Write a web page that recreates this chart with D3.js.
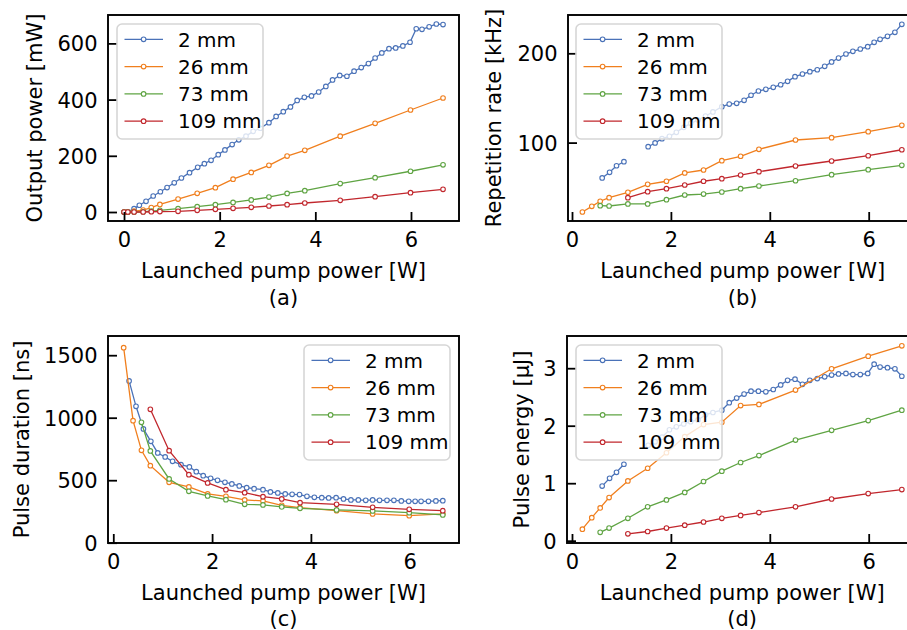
<!DOCTYPE html>
<html>
<head>
<meta charset="utf-8">
<script src="https://d3js.org/d3.v7.min.js"></script>
<style>
  body { margin: 0; background: #fff; }
  svg { display: block; font-family: "DejaVu Sans", sans-serif; }
</style>
</head>
<body>
<script>
// x grids [W]
var xBlue = [0, 0.08, 0.21, 0.32, 0.46, 0.61, 0.76, 0.90, 1.05, 1.20, 1.37, 1.54, 1.68, 1.82, 1.97, 2.11, 2.26, 2.40, 2.55, 2.70, 2.85, 3.03, 3.18, 3.33, 3.48, 3.62, 3.77, 3.92, 4.07, 4.22, 4.36, 4.51, 4.66, 4.81, 4.96, 5.11, 5.25, 5.39, 5.54, 5.68, 5.83, 5.98, 6.11, 6.23, 6.38, 6.53, 6.67];
var xFiber = [0, 0.08, 0.21, 0.40, 0.57, 0.75, 1.13, 1.53, 1.91, 2.28, 2.66, 3.03, 3.41, 3.78, 4.52, 5.25, 5.99, 6.67];

// (a) output power [mW]
var power2 = [0, 1, 12, 24, 38, 57, 72, 87, 104, 121, 140, 159, 172, 184, 204, 221, 240, 257, 270, 287, 298, 318, 340, 357, 374, 397, 408, 413, 427, 447, 470, 486, 483, 501, 514, 528, 548, 566, 581, 584, 591, 604, 652, 650, 659, 669, 667];
var power26 = [0, 0, 3, 7, 16, 27, 46, 66.5, 86.6, 117, 141, 166, 199, 219.5, 270, 315.5, 363, 405.7];
var power73 = [0, 0, 0, 1, 3, 6, 12, 19, 26, 34, 43, 53, 66, 76, 101, 122, 145, 168];
var power109 = [0, 0, 0, 0, 1, 1.5, 2.4, 6, 9.5, 13, 16.6, 21.4, 26, 32, 41.5, 54.5, 68.7, 80.7];

// (b) repetition rate [kHz]
var rate2 = [null, null, null, null, null, 60.4, 66.7, 74.1, 78.6, null, null, 95.4, 99.6, 104.4, 107.0, 111.5, 117.1, 121.6, 125.3, 129.8, 134.3, 140.2, 143.2, 144.0, 147.4, 153, 157.8, 159.7, 161.9, 164.8, 168.6, 173.8, 176.8, 179.4, 181.6, 185.4, 190.3, 194.7, 199.2, 202.2, 204.8, 207.4, 212.3, 215.7, 219, 223.5, 232.5];
var rate26 = [null, null, 22.3, 28.6, 34.3, 38.3, 44.3, 53.3, 56.7, 66, 69.3, 79.8, 84.7, 92.5, 102.9, 105.5, 112.2, 119.4];
var rate73 = [null, null, null, null, 29.4, 29, 31.3, 31.3, 36.1, 41.3, 42.4, 44.7, 48.4, 51.4, 57.3, 64.1, 69.7, 74.6];
var rate109 = [null, null, null, null, null, null, 38.3, 45, 48.4, 52.5, 56.7, 59.6, 63.7, 67.4, 73.8, 79.4, 85.3, 92];

// (c) pulse duration [ns]
var dur2 = [null, null, null, 1294, 1091, 910, 811, 718, 686, 651, 624, 606, 568, 536, 515, 499, 483, 470, 454, 440, 432, 424, 406, 398, 390, 387, 385, 371, 363, 360, 358, 360, 350, 342, 342, 339, 342, 339, 339, 339, 334, 331, 331, 331, 331, 334, 336];
var dur26 = [null, null, 1560, 976, 739, 616, 483, 446, 390, 371, 342, 334, 299, 280, 256, 230, 216, 230];
var dur73 = [null, null, null, null, 963, 734, 510, 411, 374, 344, 307, 302, 286, 275, 262, 254, 240, 222];
var dur109 = [null, null, null, null, null, 1067, 736, 544, 478, 424, 400, 368, 350, 320, 307, 283, 267, 256];

// (d) pulse energy [uJ]
var energy2 = [null, null, null, null, null, 0.95, 1.085, 1.19, 1.33, null, null, 1.66, 1.72, 1.80, 1.93, 1.98, 2.03, 2.07, 2.10, 2.19, 2.23, 2.27, 2.40, 2.48, 2.55, 2.60, 2.60, 2.59, 2.63, 2.71, 2.79, 2.81, 2.72, 2.79, 2.82, 2.85, 2.88, 2.90, 2.91, 2.89, 2.89, 2.91, 3.07, 3.02, 3.01, 2.99, 2.86];
var energy26 = [null, null, 0.20, 0.40, 0.57, 0.75, 1.04, 1.26, 1.53, 1.81, 2.02, 2.06, 2.35, 2.37, 2.62, 2.99, 3.21, 3.39];
var energy73 = [null, null, null, null, 0.146, 0.22, 0.39, 0.59, 0.71, 0.84, 1.03, 1.21, 1.36, 1.48, 1.75, 1.92, 2.09, 2.27];
var energy109 = [null, null, null, null, null, null, 0.12, 0.16, 0.22, 0.27, 0.325, 0.39, 0.44, 0.49, 0.59, 0.725, 0.82, 0.89];

var seriesNames = ["2 mm", "26 mm", "73 mm", "109 mm"];
var colors = ["#4a72b8", "#f07f1e", "#5fa443", "#c1272d"];
var xTicks = [0, 2, 4, 6];

var W = 907, H = 630;
var fontSize = 21;

var svg = d3.select("body").append("svg")
  .attr("width", W)
  .attr("height", H);

var panels = [
  { box: { l: 108, r: 459, t: 15, b: 221 }, xd: [-0.335, 7.004], yd: [-32, 701],
    yTicks: [0, 200, 400, 600], ylabel: "Output power [mW]", ylabelX: 42, tag: "(a)",
    xlabelY: 278, tagY: 305, legend: { x: 117, y: 24 },
    data: [power2, power26, power73, power109] },
  { box: { l: 568, r: 917.4, t: 15, b: 221 }, xd: [-0.081, 6.985], yd: [12.2, 242.9],
    yTicks: [100, 200], ylabel: "Repetition rate [kHz]", ylabelX: 501, tag: "(b)",
    xlabelY: 278, tagY: 305, legend: { x: 576, y: 24 },
    data: [rate2, rate26, rate73, rate109] },
  { box: { l: 108, r: 459, t: 336, b: 543 }, xd: [-0.107, 6.998], yd: [-2.4, 1653.6],
    yTicks: [0, 500, 1000, 1500], ylabel: "Pulse duration [ns]", ylabelX: 29, tag: "(c)",
    xlabelY: 600, tagY: 626, legend: { x: 304, y: 345 },
    data: [dur2, dur26, dur73, dur109] },
  { box: { l: 567, r: 917.4, t: 336, b: 543 }, xd: [-0.101, 6.985], yd: [-0.04, 3.56],
    yTicks: [0, 1, 2, 3], ylabel: "Pulse energy [μJ]", ylabelX: 529, tag: "(d)",
    xlabelY: 600, tagY: 626, legend: { x: 576, y: 345 },
    data: [energy2, energy26, energy73, energy109] }
];

panels.forEach(function(p) {
  var x = d3.scaleLinear().domain(p.xd).range([p.box.l, p.box.r]);
  var y = d3.scaleLinear().domain(p.yd).range([p.box.b, p.box.t]);
  var g = svg.append("g");

  // series
  p.data.forEach(function(vals, i) {
    var xs = i === 0 ? xBlue : xFiber;
    var pts = xs.map(function(xv, j) { return [xv, vals[j]]; });
    var line = d3.line()
      .defined(function(d) { return d[1] !== null; })
      .x(function(d) { return x(d[0]); })
      .y(function(d) { return y(d[1]); });
    g.append("path")
      .datum(pts)
      .attr("d", line)
      .attr("fill", "none")
      .attr("stroke", colors[i])
      .attr("stroke-width", 1.3);
    g.selectAll(null)
      .data(pts.filter(function(d) { return d[1] !== null; }))
      .enter().append("circle")
        .attr("cx", function(d) { return x(d[0]); })
        .attr("cy", function(d) { return y(d[1]); })
        .attr("r", 2.3)
        .attr("fill", "#fff")
        .attr("stroke", colors[i])
        .attr("stroke-width", 1.1);
  });

  // axes, ticks pointing inward
  var xAxis = g.append("g")
    .attr("transform", "translate(0," + p.box.b + ")")
    .call(d3.axisBottom(x).tickValues(xTicks).tickFormat(d3.format("d")).tickSize(-9));
  xAxis.selectAll("text").attr("y", 26).attr("dy", null);

  var yAxis = g.append("g")
    .attr("transform", "translate(" + p.box.l + ",0)")
    .call(d3.axisLeft(y).tickValues(p.yTicks).tickFormat(d3.format("d")).tickSize(-9).tickPadding(10.5));
  yAxis.selectAll("text").attr("dy", "0.36em");

  [xAxis, yAxis].forEach(function(a) {
    a.select(".domain").remove();
    a.selectAll("line").attr("stroke", "#000").attr("stroke-width", 1.8);
    a.selectAll("text")
      .attr("fill", "#000")
      .attr("font-size", fontSize)
      .attr("font-family", "DejaVu Sans");
  });

  // frame
  g.append("rect")
    .attr("x", p.box.l)
    .attr("y", p.box.t)
    .attr("width", p.box.r - p.box.l)
    .attr("height", p.box.b - p.box.t)
    .attr("fill", "none")
    .attr("stroke", "#000")
    .attr("stroke-width", 1.9);

  // labels
  var cx = (p.box.l + p.box.r) / 2;
  g.append("text")
    .attr("x", cx).attr("y", p.xlabelY)
    .attr("text-anchor", "middle")
    .attr("font-size", fontSize)
    .text("Launched pump power [W]");
  g.append("text")
    .attr("x", cx).attr("y", p.tagY)
    .attr("text-anchor", "middle")
    .attr("font-size", fontSize)
    .text(p.tag);
  g.append("text")
    .attr("transform", "translate(" + p.ylabelX + "," + ((p.box.t + p.box.b) / 2) + ") rotate(-90)")
    .attr("text-anchor", "middle")
    .attr("font-size", fontSize)
    .text(p.ylabel);

  // legend
  var lg = g.append("g").attr("transform", "translate(" + p.legend.x + "," + p.legend.y + ")");
  lg.append("rect")
    .attr("width", 146)
    .attr("height", 115)
    .attr("rx", 5)
    .attr("fill", "#fff")
    .attr("fill-opacity", 0.8)
    .attr("stroke", "#d6d6d6")
    .attr("stroke-width", 1.6);
  seriesNames.forEach(function(name, i) {
    var ry = 15.3 + i * 27.3;
    lg.append("line")
      .attr("x1", 7.5).attr("x2", 46)
      .attr("y1", ry).attr("y2", ry)
      .attr("stroke", colors[i])
      .attr("stroke-width", 1.3);
    lg.append("circle")
      .attr("cx", 26.6).attr("cy", ry)
      .attr("r", 2.3)
      .attr("fill", "#fff")
      .attr("stroke", colors[i])
      .attr("stroke-width", 1.1);
    lg.append("text")
      .attr("x", 61).attr("y", ry)
      .attr("dy", "0.36em")
      .attr("font-size", 20)
      .text(name);
  });
});
</script>
</body>
</html>
